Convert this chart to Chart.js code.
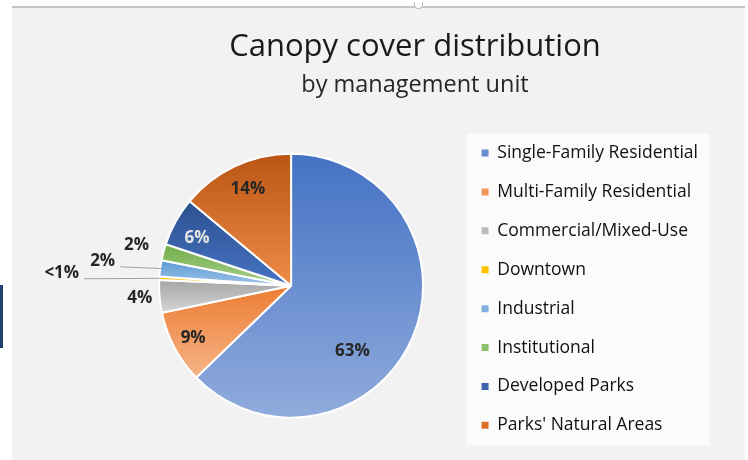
<!DOCTYPE html>
<html>
<head>
<meta charset="utf-8">
<title>Canopy cover distribution</title>
<script src="https://cdn.jsdelivr.net/npm/chart.js@4.4.1/dist/chart.umd.min.js"></script>
<style>
  html, body { margin: 0; padding: 0; background: #fff; }
  body { width: 748px; height: 460px; position: relative; overflow: hidden; }
  #frame { position: absolute; left: 12px; top: 6px; width: 733px; height: 460px; background: #f2f2f2; border-top: 2px solid #c4c4c4; }
  #handle { position: absolute; left: 414px; top: 2px; width: 7px; height: 6px; border: 1px solid #b8b8b8; border-top: none; border-radius: 0 0 5px 5px; background: #fff; }
  #tab { position: absolute; left: 0; top: 285px; width: 3px; height: 63px; background: #1d416f; }
  #wrap { position: absolute; left: 0; top: 0; width: 748px; height: 460px; }
</style>
</head>
<body>
<div id="frame"></div>
<div id="handle"></div>
<div id="tab"></div>
<div id="wrap"><canvas id="grafico"></canvas></div>
<script>
// categorias e valores (% da cobertura de copa)
const categories = ['Single-Family Residential', 'Multi-Family Residential', 'Commercial/Mixed-Use',
  'Downtown', 'Industrial', 'Institutional', 'Developed Parks', "Parks' Natural Areas"];
const canopyShare = [63, 9, 4, 0.4, 2, 2, 6, 14];

// cores (gradiente de cima para baixo de cada fatia)
const topColors    = ['#4472c4', '#ed7d31', '#a5a5a5', '#ffc000', '#5b9bd5', '#70ad47', '#2c5191', '#bb5515'];
const bottomColors = ['#90abdc', '#f5b488', '#d6d6d6', '#ffd966', '#9dc3e6', '#a9d18e', '#4673c2', '#f08a47'];
const legendColors = ['#6a8dd0', '#f0935a', '#bcbcbc', '#ffc000', '#7fb0e0', '#8cc06a', '#3d64ae', '#dc6c28'];

// posicao dos rotulos: fracao do raio e giro extra (graus)
const labelDist  = [0.68, 0.84, 1.15, 1.74, 1.44, 1.21, 0.80, 0.80];
const labelTurn  = [24, 0, 0, 0, 0, 0, -2, 1];
const labelColor = ['#262626', '#262626', '#262626', '#262626', '#262626', '#262626', '#e4e4e4', '#262626'];
const leaderLine = [false, false, false, true, true, false, false, false];

const FONT = "'Open Sans', sans-serif";

function sliceFill(context) {
    const i = context.dataIndex;
    const chart = context.chart;
    const area = chart.chartArea;
    if (!area) return legendColors[i];
    const cx = (area.left + area.right) / 2;
    const cy = (area.top + area.bottom) / 2;
    const r = 132;
    const total = canopyShare.reduce((a, b) => a + b, 0);
    let before = 0;
    for (let k = 0; k < i; k++) before += canopyShare[k];
    const a0 = -Math.PI / 2 + before / total * 2 * Math.PI;
    const a1 = a0 + canopyShare[i] / total * 2 * Math.PI;
    let minY = cy, maxY = cy;
    for (let s = 0; s <= 40; s++) {
        const y = cy + r * Math.sin(a0 + (a1 - a0) * s / 40);
        minY = Math.min(minY, y);
        maxY = Math.max(maxY, y);
    }
    if (maxY - minY < 1) maxY = minY + 1;
    const g = chart.ctx.createLinearGradient(0, minY, 0, maxY);
    g.addColorStop(0, topColors[i]);
    g.addColorStop(1, bottomColors[i]);
    return g;
}

// rotulos de porcentagem desenhados sobre as fatias
const sliceLabels = {
    id: 'sliceLabels',
    afterDatasetsDraw(chart) {
        const ctx = chart.ctx;
        const arcs = chart.getDatasetMeta(0).data;
        ctx.save();
        ctx.font = 'bold 17px ' + FONT;
        ctx.textAlign = 'center';
        ctx.textBaseline = 'middle';
        arcs.forEach((arc, i) => {
            const p = arc.getProps(['x', 'y', 'startAngle', 'endAngle', 'outerRadius'], true);
            const mid = (p.startAngle + p.endAngle) / 2;
            const ang = mid + labelTurn[i] * Math.PI / 180;
            const d = p.outerRadius * labelDist[i];
            const lx = p.x + Math.cos(ang) * d;
            const ly = p.y + Math.sin(ang) * d;
            const text = canopyShare[i] < 1 ? '<1%' : Math.round(canopyShare[i]) + '%';
            if (leaderLine[i]) {
                const w = ctx.measureText(text).width;
                ctx.strokeStyle = '#a0a0a0';
                ctx.lineWidth = 1;
                ctx.beginPath();
                ctx.moveTo(lx + w / 2 + 5, ly + 6);
                ctx.lineTo(p.x + Math.cos(mid) * (p.outerRadius - 1), p.y + Math.sin(mid) * (p.outerRadius - 1));
                ctx.stroke();
            }
            ctx.fillStyle = labelColor[i];
            ctx.fillText(text, lx, ly);
        });
        ctx.restore();
    }
};

// caixa branca atras da legenda
const legendBox = {
    id: 'legendBox',
    beforeDraw(chart) {
        const boxes = chart.legend && chart.legend.legendHitBoxes;
        if (!boxes || !boxes.length) return;
        const left = Math.min(...boxes.map(b => b.left)) - 15;
        const top = Math.min(...boxes.map(b => b.top)) - 11;
        const bottom = Math.max(...boxes.map(b => b.top + b.height)) + 11;
        const ctx = chart.ctx;
        ctx.save();
        ctx.fillStyle = '#fbfbfb';
        ctx.fillRect(left, top, 710 - left, bottom - top);
        ctx.restore();
    }
};

new Chart(document.getElementById('grafico'), {
    type: 'pie',
    data: {
        labels: categories,
        datasets: [{
            data: canopyShare,
            backgroundColor: sliceFill,
            borderColor: '#ffffff',
            borderWidth: 2,
            radius: 132
        }]
    },
    options: {
        responsive: true,
        maintainAspectRatio: false,
        animation: false,
        events: [],
        layout: { padding: { top: 16, left: 122, right: 40, bottom: 0 } },
        plugins: {
            title: {
                display: true,
                text: 'Canopy cover distribution',
                color: '#1a1a1a',
                font: { family: FONT, size: 31, weight: 'normal' },
                padding: { top: 13, bottom: 0 }
            },
            subtitle: {
                display: true,
                text: 'by management unit',
                color: '#262626',
                font: { family: FONT, size: 23.5, weight: 'normal' },
                padding: { top: 5, bottom: 12 }
            },
            legend: {
                position: 'right',
                fullSize: false,
                title: { display: true, text: '', font: { size: 5, lineHeight: 1 }, padding: { top: 2, bottom: 0 } },
                labels: {
                    boxWidth: 7,
                    boxHeight: 7,
                    padding: 21.4,
                    color: '#111111',
                    font: { family: FONT, size: 17.5 },
                    generateLabels: () => categories.map((text, i) => ({
                        text,
                        fillStyle: legendColors[i],
                        strokeStyle: legendColors[i],
                        fontColor: '#111111',
                        lineWidth: 0,
                        hidden: false,
                        index: i
                    }))
                }
            },
            tooltip: { enabled: false }
        }
    },
    plugins: [sliceLabels, legendBox]
});
</script>
</body>
</html>
